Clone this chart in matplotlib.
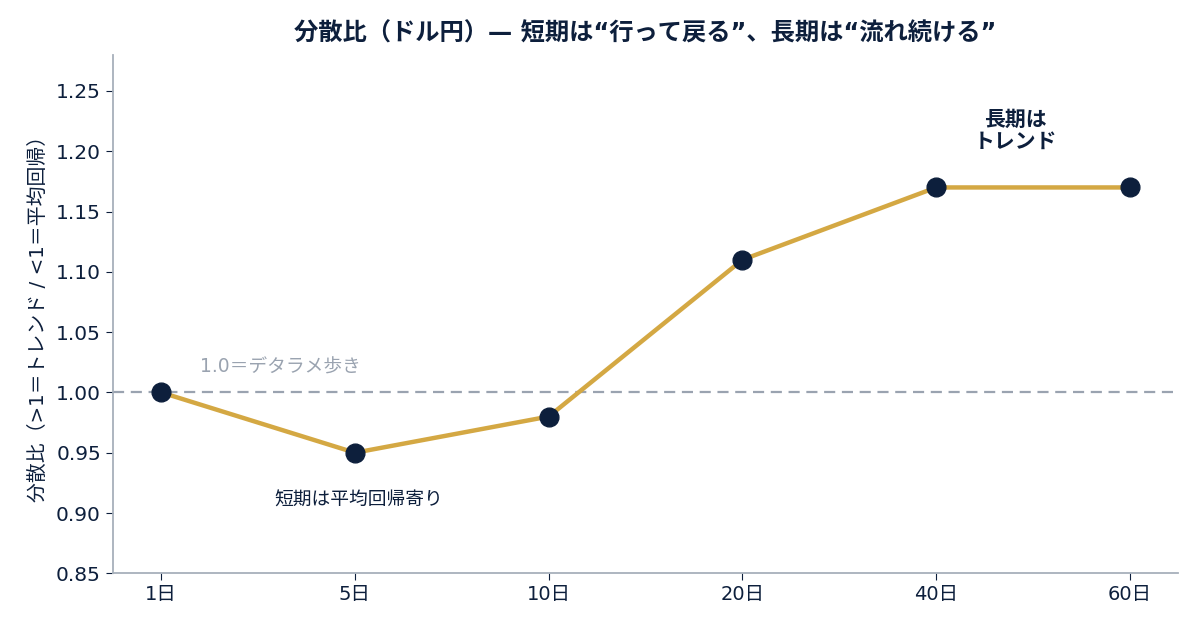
import matplotlib
matplotlib.use('Agg')
import matplotlib.pyplot as plt
import numpy as np

plt.rcParams['font.family'] = ['DejaVu Sans', 'Noto Sans CJK JP']

# horizon labels and variance ratio values
horizons = ['1日', '5日', '10日', '20日', '40日', '60日']
variance_ratio = [1.00, 0.95, 0.98, 1.11, 1.17, 1.17]

navy = '#0d1f3c'
gold = '#d4a843'
grey = '#9aa3b0'

fig, ax = plt.subplots(figsize=(12, 6.3), dpi=100)
fig.subplots_adjust(left=0.094, right=0.982, top=0.913, bottom=0.09)

x = np.arange(len(horizons))
ax.axhline(1.0, color=grey, linestyle='--', linewidth=1.6, dashes=(5, 3), zorder=1)
ax.plot(x, variance_ratio, color=gold, linewidth=3.2, zorder=2)
ax.plot(x, variance_ratio, 'o', color=navy, markersize=13.5, zorder=3)

ax.text(0.2, 1.021, '1.0＝デタラメ歩き', color=grey, fontsize=13.5, va='center', ha='left')
ax.text(1.02, 0.911, '短期は平均回帰寄り', color=navy, fontsize=13.5, va='center', ha='center')
ax.text(4.41, 1.217, '長期は\nトレンド', color=navy, fontsize=15, fontweight='bold',
        va='center', ha='center', linespacing=1.15)

ax.set_xlim(-0.25, 5.25)
ax.set_ylim(0.85, 1.28)
ax.set_xticks(x)
ax.set_xticklabels(horizons)
ax.set_yticks(np.arange(0.85, 1.2501, 0.05))
ax.yaxis.set_major_formatter(matplotlib.ticker.FormatStrFormatter('%.2f'))
ax.tick_params(colors=navy, length=5)
ax.tick_params(axis='y', labelsize=14.5)
ax.tick_params(axis='x', labelsize=14)

for side in ['top', 'right']:
    ax.spines[side].set_visible(False)
for side in ['left', 'bottom']:
    ax.spines[side].set_color('#a7b0bb')
    ax.spines[side].set_linewidth(1.3)

ax.set_ylabel('分散比（>1＝トレンド / <1＝平均回帰）', color=navy, fontsize=14.3, labelpad=6)
ax.set_title('分散比（ドル円）— 短期は“行って戻る”、長期は“流れ続ける”',
             color=navy, fontsize=17.5, fontweight='bold', pad=10)

fig.savefig('out.png', dpi=100, facecolor='white')
